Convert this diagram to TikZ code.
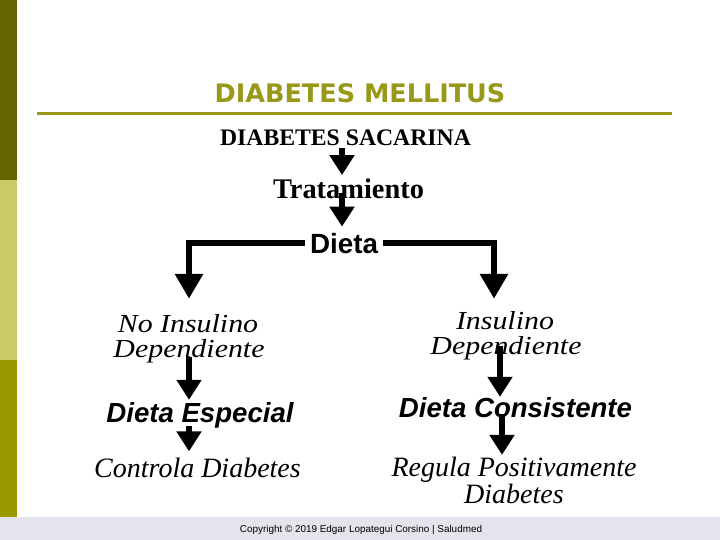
\documentclass[tikz,border=0pt]{standalone}
\usepackage{fontspec}
\usetikzlibrary{arrows.meta,calc}
\newfontfamily\tnr{Liberation Serif}
\newfontfamily\tnrwide[FakeStretch=1.15]{Liberation Serif}
\newfontfamily\ari{Liberation Sans}
\newfontfamily\dvs{DejaVu Sans}
\definecolor{titlecol}{RGB}{153,153,25}
\definecolor{barA}{RGB}{102,102,0}
\definecolor{barB}{RGB}{204,204,102}
\definecolor{barC}{RGB}{153,153,0}
\definecolor{band}{RGB}{228,228,236}
\tikzset{
  lbl/.style={inner sep=0pt, anchor=base},
  serifb/.style={lbl, font=\tnr\bfseries\fontsize{#1}{#1}\selectfont},
  serifi/.style={lbl, font=\tnr\itshape\fontsize{28}{28}\selectfont},
  serifw/.style={lbl, font=\tnrwide\itshape\fontsize{26}{26}\selectfont},
  sansbi/.style={lbl, font=\ari\bfseries\itshape\fontsize{27.6}{27.6}\selectfont},
  arr/.style={line width=6pt, -{Triangle[length=20pt,width=24pt]}},
  brk/.style={line width=6.5pt, line join=miter, -{Triangle[length=25pt,width=27pt]}}
}
\begin{document}
\begin{tikzpicture}[x=1pt,y=-1pt]
\useasboundingbox (0,0) rectangle (720,540);
\fill[white] (0,0) rectangle (720,540);
% side bar and bottom band
\fill[barA] (0,0) rectangle (17,180);
\fill[barB] (0,180) rectangle (17,360);
\fill[barC] (0,360) rectangle (17,517);
\fill[band] (0,517) rectangle (720,540);
% title
\node[lbl, text=titlecol, font=\dvs\bfseries\fontsize{25.5}{25.5}\selectfont] (title) at (360,103) {DIABETES MELLITUS};
\coordinate (ulA) at (37,114);
\coordinate (ulB) at (672,114);
\draw[titlecol, line width=3pt] (ulA) -- (ulB);
% nodes
\node[serifb=23.7] (sac) at (345.5,146) {DIABETES SACARINA};
\node[serifb=28.4] (trat) at (348.5,199) {Tratamiento};
\node[lbl, font=\ari\bfseries\fontsize{27.8}{27.8}\selectfont] (dieta) at (344,253) {Dieta};
\node[serifw] (ni1) at (188,332) {No Insulino};
\node[serifw] (ni2) at (189,357) {Dependiente};
\node[sansbi] (de) at (200,422) {Dieta Especial};
\node[serifi] (cd) at (197.5,477) {Controla Diabetes};
\node[serifw] (id1) at (505,329) {Insulino};
\node[serifw] (id2) at (506,354) {Dependiente};
\node[sansbi] (dc) at (515.5,417) {Dieta Consistente};
\node[serifi] (rp1) at (514,476) {Regula Positivamente};
\node[serifi] (rp2) at (514,503) {Diabetes};
\node[lbl, font=\ari\fontsize{9.9}{9.9}\selectfont] (copy) at (361,532) {Copyright © 2019 Edgar Lopategui Corsino | Saludmed};
% arrow x positions
\coordinate (xc) at (342,0);
\coordinate (xl) at (189,0);
\coordinate (xr) at (494,0);
\coordinate (xr1) at (500,0);
\coordinate (xr2) at (502,0);
% arrows
\draw[arr, shorten <=2pt] (sac.south -| xc) -- ($(trat.north -| xc)+(0,-4)$);
\draw[arr, shorten <=-6pt] (trat.south -| xc) -- ($(dieta.north -| xc)+(0,-6)$);
\draw[brk, shorten <=5pt, shorten >=15pt] (dieta.west) -| (ni1.north -| xl);
\draw[brk, shorten <=5pt, shorten >=12pt] (dieta.east) -| (id1.north -| xr);
\draw[arr, shorten <=-6pt, shorten >=2pt] (ni2.south -| xl) -- (de.north -| xl);
\draw[arr, shorten <=-2pt, shorten >=6pt] (de.south -| xl) -- (cd.north -| xl);
\draw[arr, shorten <=-14pt, shorten >=0pt] (id2.south -| xr1) -- (dc.north -| xr1);
\draw[arr, shorten <=-3pt, shorten >=1.5pt] (dc.south -| xr2) -- (rp1.north -| xr2);
\end{tikzpicture}
\end{document}
